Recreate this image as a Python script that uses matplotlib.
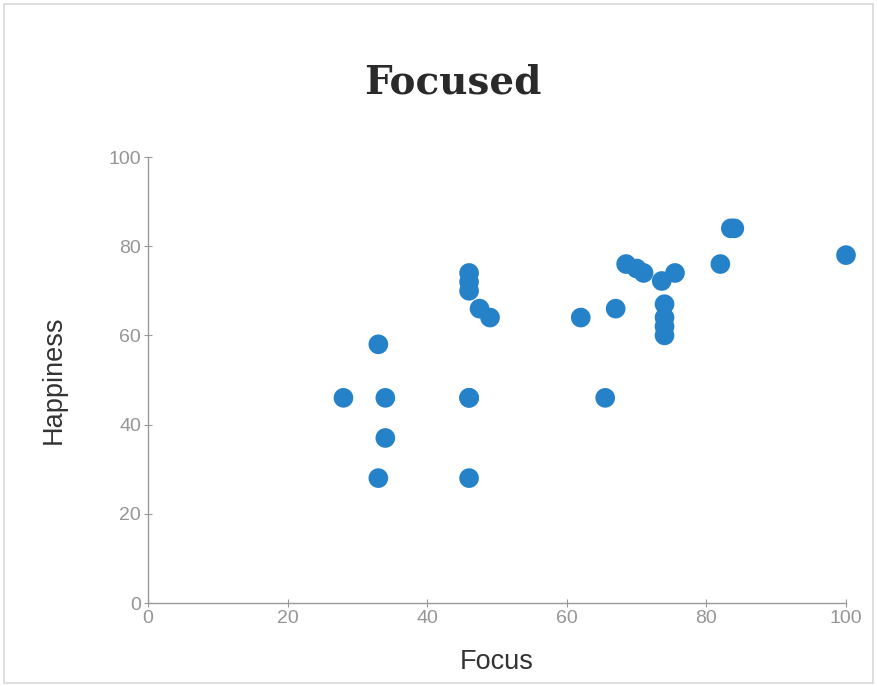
import matplotlib
matplotlib.use("Agg")
import matplotlib.pyplot as plt
from matplotlib.patches import Rectangle

plt.rcParams["font.family"] = ["Liberation Sans", "DejaVu Sans"]

title = "Focused"
x_label = "Focus"
y_label = "Happiness"
ticks = [0, 20, 40, 60, 80, 100]

focus = [28, 33, 34, 34, 33, 46, 46, 46, 46, 46, 46, 47.5, 49,
         62, 65.5, 67, 68.5, 70, 71, 73.6, 75.5,
         74, 74, 74, 74, 82, 83.5, 84, 100]
happiness = [46, 58, 46, 37, 28, 46, 46, 28, 74, 72, 70, 66, 64,
             64, 46, 66, 76, 75, 74, 72.2, 74,
             67, 64, 62, 60, 76, 84, 84, 78]

fig = plt.figure(figsize=(8.77, 6.86), dpi=100)
fig.patch.set_facecolor("white")
fig.add_artist(Rectangle((0.004, 0.004), 0.992, 0.99, transform=fig.transFigure,
                         fill=False, edgecolor="#d8d8d8", linewidth=1.2))

ax = fig.add_axes([148/877, 1-603/686, (846-148)/877, (603-157)/686])
ax.scatter(focus, happiness, s=200, color="#2581c8", edgecolors="none", zorder=3, clip_on=False)
ax.set_xlim(0, 100)
ax.set_ylim(0, 100)
ax.set_xticks(ticks)
ax.set_yticks(ticks)
for s in ["top", "right"]:
    ax.spines[s].set_visible(False)
for s in ["left", "bottom"]:
    ax.spines[s].set_color("#9a9a9a")
    ax.spines[s].set_linewidth(1.0)
ax.tick_params(axis="both", direction="inout", length=6, width=0.8, color="#9a9a9a",
               labelcolor="#959595", labelsize=14, pad=2)
ax.set_xlabel(x_label, fontsize=19.5, color="#333333", labelpad=16)
ax.set_ylabel(y_label, fontsize=19.5, color="#333333", labelpad=30)
fig.text(453/877, 1-82/686, title, ha="center", va="center", fontsize=28,
         fontweight="bold", family="DejaVu Serif", color="#2a2a2a")

fig.savefig("out.png", dpi=100)
